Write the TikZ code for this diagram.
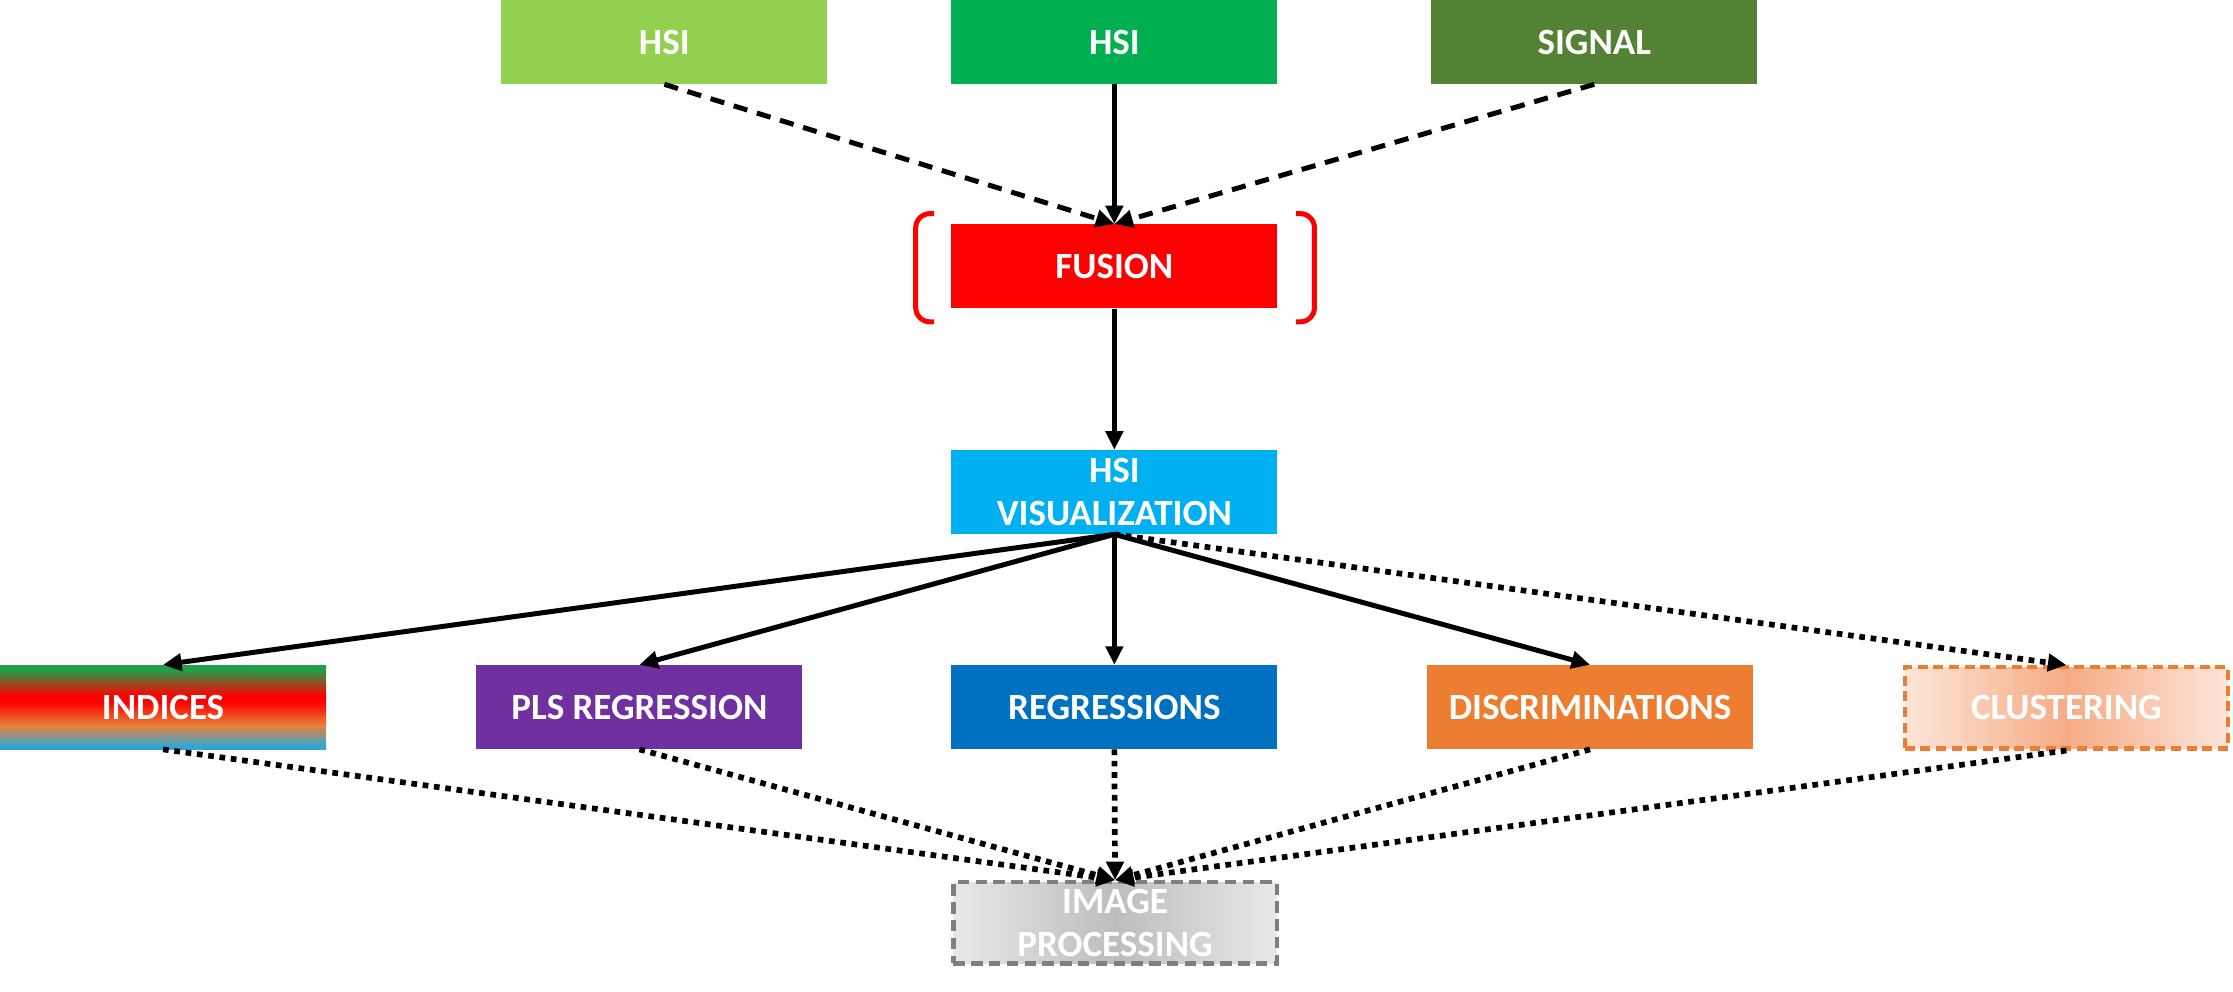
\documentclass[tikz,border=0pt]{standalone}
\usepackage{fontspec}
\setmainfont{Carlito}
\usetikzlibrary{arrows.meta}
\definecolor{cLG}{HTML}{92D050}
\definecolor{cG}{HTML}{00B050}
\definecolor{cSig}{HTML}{548235}
\definecolor{cVis}{HTML}{00B0F0}
\definecolor{cPur}{HTML}{7030A0}
\definecolor{cReg}{HTML}{0070C0}
\definecolor{cDisc}{HTML}{ED7D31}
\definecolor{cGrayB}{HTML}{7F7F7F}
\pgfdeclareverticalshading{indshade}{100bp}{%
  rgb(0bp)=(0.15,0.66,0.87);
  rgb(26bp)=(0.15,0.66,0.87);
  rgb(39bp)=(0.91,0.51,0.23);
  rgb(53bp)=(1,0,0);
  rgb(57bp)=(1,0,0);
  rgb(72bp)=(0.13,0.62,0.29);
  rgb(100bp)=(0.13,0.62,0.29)}
\pgfdeclarehorizontalshading{clushade}{100bp}{%
  rgb(0bp)=(0.99,0.90,0.85);
  rgb(25bp)=(0.99,0.90,0.85);
  rgb(50bp)=(0.965,0.67,0.52);
  rgb(75bp)=(0.99,0.90,0.85);
  rgb(100bp)=(0.99,0.90,0.85)}
\pgfdeclarehorizontalshading{imgshade}{100bp}{%
  rgb(0bp)=(0.91,0.91,0.91);
  rgb(25bp)=(0.91,0.91,0.91);
  rgb(50bp)=(0.74,0.74,0.74);
  rgb(75bp)=(0.91,0.91,0.91);
  rgb(100bp)=(0.91,0.91,0.91)}
\begin{document}
\begin{tikzpicture}[x=1pt,y=-1pt,
  box/.style={minimum width=229pt, minimum height=59pt, inner sep=0pt,
    text=white, font=\bfseries\fontsize{26}{30}\selectfont, align=center},
  tip/.style={-{Triangle[length=13pt,width=12pt]}},
  solidline/.style={tip, line width=3.5pt, black},
  dashline/.style={tip, line width=3.5pt, black, dash pattern=on 10pt off 7pt},
  dotline/.style={tip, line width=4pt, black, dash pattern=on 4pt off 4pt}]
\useasboundingbox (0,0) rectangle (1568,696);

\node[box, fill=cLG] (hsiA) at (466.5,29.5) {HSI};
\node[box, fill=cG] (hsiB) at (782.5,29.5) {HSI};
\node[box, fill=cSig] (sig) at (1119.5,29.5) {SIGNAL};
\node[box, fill=red] (fus) at (782.5,187) {FUSION};
\node[box, fill=cVis] (vis) at (782.5,345.5) {HSI\\VISUALIZATION};
\node[box, shade, shading=indshade] (ind) at (114.5,496.5) {INDICES};
\node[box, fill=cPur] (pls) at (449,496.5) {PLS REGRESSION};
\node[box, fill=cReg] (reg) at (782.5,496.5) {REGRESSIONS};
\node[box, fill=cDisc] (disc) at (1116.5,496.5) {DISCRIMINATIONS};
\node[box, minimum width=227pt, minimum height=57pt, draw=cDisc, line width=3pt,
  dash pattern=on 7pt off 4pt, shade, shading=clushade] (clu) at (1451,497) {CLUSTERING};
\node[box, minimum width=227pt, minimum height=57pt, draw=cGrayB, line width=3pt,
  dash pattern=on 8pt off 4.5pt, shade, shading=imgshade] (img) at (783,648) {IMAGE\\PROCESSING};

% brackets around FUSION
\draw[red, line width=3.5pt, rounded corners=10pt] (656,150) -- (643,150) -- (643,226) -- (656,226);
\draw[red, line width=3.5pt, rounded corners=10pt] (910,150) -- (923,150) -- (923,226) -- (910,226);

\draw[dashline] (hsiA.south) -- (fus.north);
\draw[solidline] (hsiB.south) -- (fus.north);
\draw[dashline] (sig.south) -- (fus.north);
\draw[solidline] (fus.south) -- (vis.north);

\draw[solidline] (vis.south) -- (ind.north);
\draw[solidline] (vis.south) -- (pls.north);
\draw[solidline] (vis.south) -- (reg.north);
\draw[solidline] (vis.south) -- (disc.north);
\draw[dotline] (vis.south) -- (clu.north);

\draw[dotline] (ind.south) -- (img.north);
\draw[dotline] (pls.south) -- (img.north);
\draw[dotline] (reg.south) -- (img.north);
\draw[dotline] (disc.south) -- (img.north);
\draw[dotline] (clu.south) -- (img.north);
\end{tikzpicture}
\end{document}
